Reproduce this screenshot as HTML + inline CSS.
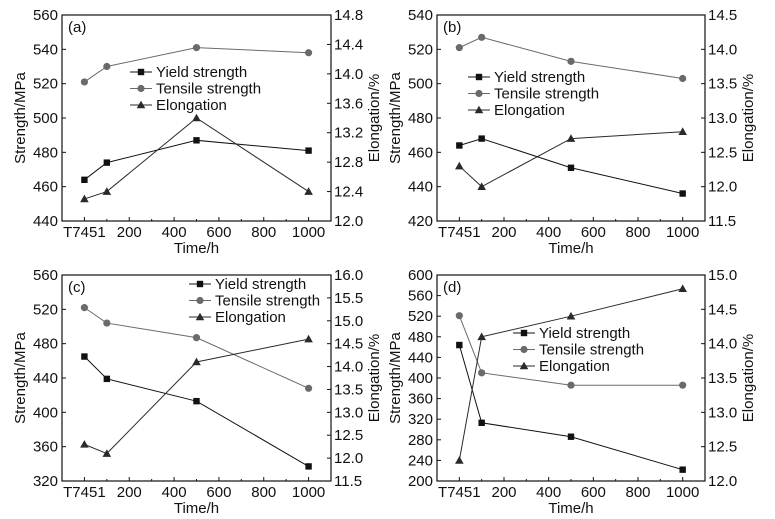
<!DOCTYPE html>
<html><head><meta charset="utf-8"><style>
html,body{margin:0;padding:0;background:#fff;width:775px;height:519px;overflow:hidden}
svg text{font-family:"Liberation Sans",Arial,sans-serif;fill:#111}
</style></head><body>
<svg id="chart" width="775" height="519" viewBox="0 0 775 519" xmlns="http://www.w3.org/2000/svg"></svg>
<script>
// shared data
const times = [0, 100, 500, 1000];
const xTickValues = [0, 200, 400, 600, 800, 1000];
const xTickLabels = ["T7451", "200", "400", "600", "800", "1000"];
// panel (a)
const yieldA = [464, 474, 487, 481];
const tensileA = [521, 530, 541, 538];
const elongA = [12.3, 12.4, 13.4, 12.4];
// panel (b)
const yieldB = [464, 468, 451, 436];
const tensileB = [521, 527, 513, 503];
const elongB = [12.3, 12.0, 12.7, 12.8];
// panel (c)
const yieldC = [465, 439, 413, 337];
const tensileC = [522, 504, 487, 428];
const elongC = [12.3, 12.1, 14.1, 14.6];
// panel (d)
const yieldD = [464, 313, 286, 222];
const tensileD = [521, 410, 386, 386];
const elongD = [12.3, 14.1, 14.4, 14.8];
// axis ticks
const leftTicksA = [440, 460, 480, 500, 520, 540, 560];
const rightTicksA = ["12.0", "12.4", "12.8", "13.2", "13.6", "14.0", "14.4", "14.8"];
const leftTicksB = [420, 440, 460, 480, 500, 520, 540];
const rightTicksB = ["11.5", "12.0", "12.5", "13.0", "13.5", "14.0", "14.5"];
const leftTicksC = [320, 360, 400, 440, 480, 520, 560];
const rightTicksC = ["11.5", "12.0", "12.5", "13.0", "13.5", "14.0", "14.5", "15.0", "15.5", "16.0"];
const leftTicksD = [200, 240, 280, 320, 360, 400, 440, 480, 520, 560, 600];
const rightTicksD = ["12.0", "12.5", "13.0", "13.5", "14.0", "14.5", "15.0"];

const NS = "http://www.w3.org/2000/svg";
const svg = document.getElementById("chart");
function mk(tag, attrs, parent) {
  const e = document.createElementNS(NS, tag);
  for (const k in attrs) e.setAttribute(k, attrs[k]);
  (parent || svg).appendChild(e);
  return e;
}
function marker(g, type, x, y, color) {
  let m;
  if (type === "sq") m = mk("rect", {x: x - 3.2, y: y - 3.2, width: 6.4, height: 6.4, fill: color}, g);
  else if (type === "ci") m = mk("circle", {cx: x, cy: y, r: 3.6, fill: color}, g);
  else m = mk("polygon", {points: (x) + "," + (y - 4.3) + " " + (x - 4.3) + "," + (y + 3.3) + " " + (x + 4.3) + "," + (y + 3.3), fill: color}, g);
  return m;
}
const panels = [
  {id: "a", L: 62, R: 331, T: 15, B: 221, lt: leftTicksA, rt: rightTicksA, ys: [yieldA, tensileA, elongA], leg: [130, 72]},
  {id: "b", L: 437, R: 705, T: 15, B: 221, lt: leftTicksB, rt: rightTicksB, ys: [yieldB, tensileB, elongB], leg: [468, 77]},
  {id: "c", L: 62, R: 331, T: 275, B: 481, lt: leftTicksC, rt: rightTicksC, ys: [yieldC, tensileC, elongC], leg: [189, 284]},
  {id: "d", L: 437, R: 705, T: 275, B: 481, lt: leftTicksD, rt: rightTicksD, ys: [yieldD, tensileD, elongD], leg: [513, 333]}
];
const colors = ["#111", "#6a6a6a", "#2a2a2a"];
const mtypes = ["sq", "ci", "tr"];
const names = ["Yield strength", "Tensile strength", "Elongation"];
const keys = ["yield-strength", "tensile-strength", "elongation"];
panels.forEach(p => {
  const g = mk("g", {});
  
  
  const x = v => p.L + (v + 100) / 1200 * (p.R - p.L);
  const lmin = p.lt[0], lmax = p.lt[p.lt.length - 1];
  const yl = v => p.B - (v - lmin) / (lmax - lmin) * (p.B - p.T);
  const rmin = parseFloat(p.rt[0]), rmax = parseFloat(p.rt[p.rt.length - 1]);
  const yr = v => p.B - (v - rmin) / (rmax - rmin) * (p.B - p.T);
  const frame = mk("rect", {x: p.L, y: p.T, width: p.R - p.L, height: p.B - p.T, fill: "none", stroke: "#111", "stroke-width": 1.2}, g);
  
  
  xTickValues.forEach((v, i) => {
    mk("line", {x1: x(v), x2: x(v), y1: p.B, y2: p.B - 4, stroke: "#111"}, g);
    if (i > 0) mk("line", {x1: x(v - 100), x2: x(v - 100), y1: p.B, y2: p.B - 2, stroke: "#111"}, g);
    const t = mk("text", {x: x(v), y: p.B + 16, "font-size": 15, "text-anchor": "middle"}, g);
    t.textContent = xTickLabels[i];
    
    
  });
  const xt = mk("text", {x: (p.L + p.R) / 2, y: p.B + 32, "font-size": 15, "text-anchor": "middle"}, g);
  xt.textContent = "Time/h";
  
  
  p.lt.forEach(v => {
    mk("line", {x1: p.L, x2: p.L + 4, y1: yl(v), y2: yl(v), stroke: "#111"}, g);
    const t = mk("text", {x: p.L - 4, y: yl(v) + 5, "font-size": 15, "text-anchor": "end"}, g);
    t.textContent = v;
    
    
  });
  const ly = mk("text", {x: 0, y: 0, "font-size": 15, "text-anchor": "middle", transform: "translate(" + (p.L - 37) + "," + ((p.T + p.B) / 2) + ") rotate(-90)"}, g);
  ly.textContent = "Strength/MPa";
  
  
  p.rt.forEach(s => {
    const v = parseFloat(s);
    mk("line", {x1: p.R, x2: p.R - 4, y1: yr(v), y2: yr(v), stroke: "#111"}, g);
    const t = mk("text", {x: p.R + 3, y: yr(v) + 5, "font-size": 15}, g);
    t.textContent = s;
    
    
  });
  const ry = mk("text", {x: 0, y: 0, "font-size": 15, "text-anchor": "middle", transform: "translate(" + (p.R + 48) + "," + ((p.T + p.B) / 2) + ") rotate(-90)"}, g);
  ry.textContent = "Elongation/%";
  
  
  const pl = mk("text", {x: p.L + 6, y: p.T + 17, "font-size": 15}, g);
  pl.textContent = "(" + p.id + ")";
  
  
  p.ys.forEach((vals, si) => {
    const sy = si === 2 ? yr : yl;
    const sg = mk("g", {}, g);
    
    
    const pts = times.map((t, i) => x(t) + "," + sy(vals[i])).join(" ");
    const line = mk("polyline", {points: pts, fill: "none", stroke: colors[si], "stroke-width": 1}, sg);
    
    
    times.forEach((t, i) => {
      const m = marker(sg, mtypes[si], x(t), sy(vals[i]), colors[si]);
      
      
    });
    const lx = p.leg[0], lyy = p.leg[1] + si * 16.5;
    const lg = mk("g", {}, g);
    
    
    mk("line", {x1: lx, x2: lx + 22, y1: lyy, y2: lyy, stroke: colors[si]}, lg);
    marker(lg, mtypes[si], lx + 11, lyy, colors[si]);
    const lt = mk("text", {x: lx + 26, y: lyy + 5, "font-size": 15}, lg);
    lt.textContent = names[si];
  });
});
</script>
</body></html>
